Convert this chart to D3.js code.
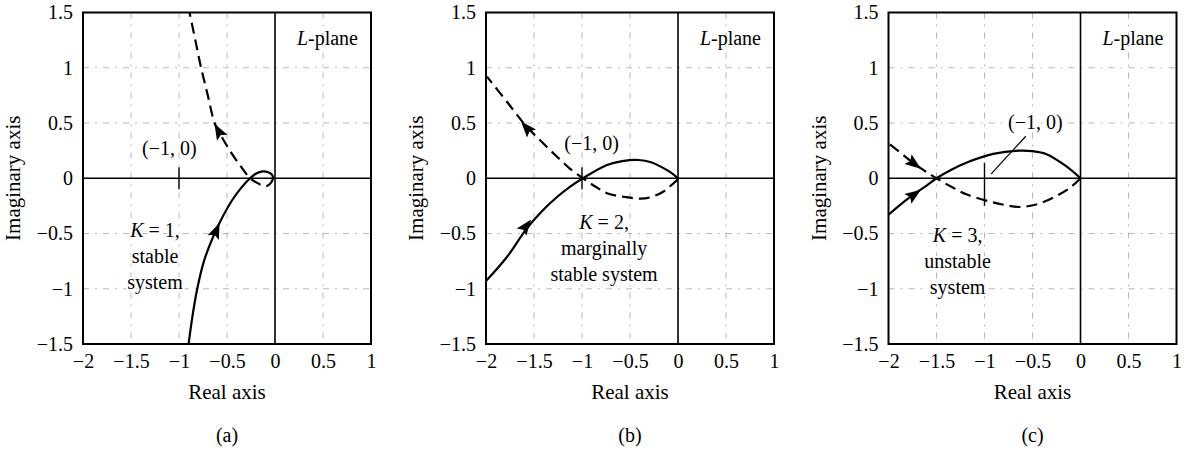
<!DOCTYPE html>
<html><head><meta charset="utf-8">
<script src="https://cdn.jsdelivr.net/npm/d3@7"></script>
<style>
html,body{margin:0;padding:0;background:#fff;}
svg{display:block;font-family:"Liberation Serif","Times New Roman",serif;}
</style></head>
<body><svg id="chart" width="1188" height="451"></svg>
<script>
// ---- data ----
const xTicks = [-2, -1.5, -1, -0.5, 0, 0.5, 1];
const yTicks = [-1.5, -1, -0.5, 0, 0.5, 1, 1.5];
const xGrid = [-1.5, -1, -0.5, 0.5];
const yGrid = [-1, -0.5, 0.5, 1];
const captions = ["(a)", "(b)", "(c)"];
const gainLines = [["K = 1,", "stable", "system"], ["K = 2,", "marginally", "stable system"], ["K = 3,", "unstable", "system"]];
const pointLabel = "(−1, 0)";

// Nyquist curves: [Re, Im]
const solidA = [[-0.90,-1.5],[-0.86,-1.25],[-0.81,-1.0],[-0.74,-0.75],[-0.64,-0.52],[-0.54,-0.34],[-0.44,-0.19],[-0.35,-0.085],[-0.26,0],[-0.2,0.04],[-0.13,0.062],[-0.07,0.055],[-0.03,0.03],[-0.02,0.0]];
const dashedA = [[-0.02,0.0],[-0.04,-0.04],[-0.09,-0.072],[-0.14,-0.062],[-0.2,-0.035],[-0.26,0],[-0.35,0.1],[-0.47,0.25],[-0.59,0.43],[-0.63,0.5],[-0.70,0.75],[-0.77,1.0],[-0.83,1.25],[-0.89,1.5]];
const solidB = [[-2,-0.93],[-1.78,-0.71],[-1.58,-0.46],[-1.42,-0.3],[-1.26,-0.17],[-1.13,-0.08],[-0.99,0],[-0.74,0.12],[-0.58,0.155],[-0.41,0.165],[-0.28,0.145],[-0.18,0.105],[-0.08,0.055],[0,0]];
const dashedB = [[0,-0.01],[-0.08,-0.07],[-0.15,-0.12],[-0.28,-0.17],[-0.39,-0.185],[-0.55,-0.17],[-0.74,-0.135],[-0.87,-0.07],[-0.99,0],[-1.13,0.09],[-1.26,0.195],[-1.42,0.33],[-1.58,0.47],[-1.78,0.69],[-1.99,0.92]];
const solidC = [[-2,-0.33],[-1.85,-0.22],[-1.71,-0.13],[-1.6,-0.065],[-1.5,0],[-1.35,0.075],[-1.19,0.14],[-0.91,0.22],[-0.64,0.25],[-0.5,0.245],[-0.36,0.22],[-0.15,0.11],[0,0]];
const dashedC = [[0,0],[-0.1,-0.08],[-0.25,-0.16],[-0.45,-0.235],[-0.64,-0.26],[-0.8,-0.24],[-0.95,-0.21],[-1.19,-0.145],[-1.35,-0.075],[-1.5,0],[-1.62,0.065],[-1.73,0.13],[-1.86,0.22],[-1.99,0.31]];
const solidSeries = [solidA, solidB, solidC];
const dashedSeries = [dashedA, dashedB, dashedC];
// arrowheads: [Re, Im] and direction along stored point order (1 forward, -1 backward)
const solidArrows = [[-0.61,-0.47], [-1.58,-0.43], [-1.73,-0.145]];
const dashedArrows = [[-0.59,0.43], [-1.58,0.46], [-1.73,0.13]];
const solidArrowDir = [1, 1, 1];
const dashedArrowDir = [1, 1, -1];

(function () {
// ---- layout ----
const svg = d3.select("#chart");
const lefts = [83, 486, 888.5];
const pw = 288, topY = 12.5, botY = 344;
const fmt = d => d < 0 ? "−" + Math.abs(d) : String(d);
const line = d3.line().curve(d3.curveCatmullRom.alpha(0.5));

function arrow(g, x, y, pts, at, dir) {
  let best = 0, bd = 1e9;
  pts.forEach((p, i) => { const d = (p[0]-at[0])**2 + (p[1]-at[1])**2; if (d < bd) { bd = d; best = i; } });
  const i0 = Math.max(0, best-1), i1 = Math.min(pts.length-1, best+1);
  const dx = x(pts[i1][0]) - x(pts[i0][0]), dy = y(pts[i1][1]) - y(pts[i0][1]);
  const ang = Math.atan2(dy, dx) * 180 / Math.PI + (dir < 0 ? 180 : 0);
  g.append("path")
    .attr("d", "M8,0 L-8,-6 L-5,0 L-8,6 Z")
    .attr("fill", "#000")
    .attr("transform", `translate(${x(at[0])},${y(at[1])}) rotate(${ang})`);
}

lefts.forEach((L, i) => {
  const x = d3.scaleLinear().domain([-2, 1]).range([L, L + pw]);
  const y = d3.scaleLinear().domain([-1.5, 1.5]).range([botY, topY]);
  const g = svg.append("g");
  line.x(d => x(d[0])).y(d => y(d[1]));

  g.selectAll(".gx").data(xGrid).enter().append("line")
    .attr("x1", d => x(d)).attr("x2", d => x(d)).attr("y1", topY).attr("y2", botY)
    .attr("stroke", "#9a9a9a").attr("stroke-width", 0.7).attr("stroke-dasharray", "6,6,2,6");
  g.selectAll(".gy").data(yGrid).enter().append("line")
    .attr("y1", d => y(d)).attr("y2", d => y(d)).attr("x1", L).attr("x2", L + pw)
    .attr("stroke", "#9a9a9a").attr("stroke-width", 0.7).attr("stroke-dasharray", "6,6,2,6");

  g.append("line").attr("x1", x(0)).attr("x2", x(0)).attr("y1", topY).attr("y2", botY)
    .attr("stroke", "#000").attr("stroke-width", 1.6);
  g.append("line").attr("x1", L).attr("x2", L + pw).attr("y1", y(0)).attr("y2", y(0))
    .attr("stroke", "#000").attr("stroke-width", 1.4);

  g.append("line").attr("x1", x(-1)).attr("x2", x(-1)).attr("y1", y(i === 2 ? 0.14 : 0.1)).attr("y2", y(i === 2 ? -0.25 : -0.1))
    .attr("stroke", "#000").attr("stroke-width", 1.4);

  const T = (tx, ty, s, anchor) => g.append("text").attr("x", tx).attr("y", ty)
    .attr("text-anchor", anchor || "middle").attr("font-size", 20)
    .attr("paint-order", "stroke").attr("stroke", "#fff").attr("stroke-width", 4)
    .text(s);

  g.append("path").attr("d", line(solidSeries[i])).attr("fill", "none")
    .attr("stroke", "#000").attr("stroke-width", 2.2);
  g.append("path").attr("d", line(dashedSeries[i])).attr("fill", "none")
    .attr("stroke", "#000").attr("stroke-width", 2.2).attr("stroke-dasharray", "11,6");
  arrow(g, x, y, solidSeries[i], solidArrows[i], solidArrowDir[i]);
  arrow(g, x, y, dashedSeries[i], dashedArrows[i], dashedArrowDir[i]);

  g.append("rect").attr("x", L).attr("y", topY).attr("width", pw).attr("height", botY - topY)
    .attr("fill", "none").attr("stroke", "#000").attr("stroke-width", 2);

  const ax = g.append("g").attr("transform", `translate(0,${botY})`)
    .call(d3.axisBottom(x).tickValues(xTicks).tickSize(0).tickPadding(10).tickFormat(fmt));
  ax.select(".domain").remove();
  ax.attr("font-family", null);
  ax.selectAll("text").attr("font-size", 20).attr("font-family", "Liberation Serif");
  const ay = g.append("g").attr("transform", `translate(${L},0)`)
    .call(d3.axisLeft(y).tickValues(yTicks).tickSize(0).tickPadding(10).tickFormat(fmt));
  ay.select(".domain").remove();
  ay.attr("font-family", null);
  ay.selectAll("text").attr("font-size", 20).attr("font-family", "Liberation Serif");

  const lp = g.append("text").attr("x", L + pw - 13).attr("y", 45).attr("text-anchor", "end").attr("font-size", 20);
  lp.append("tspan").attr("font-style", "italic").text("L");
  lp.append("tspan").text("-plane");

  const gx = [x(-1.25), x(-0.77), x(-1.28)][i];
  const gy = [237, 229, 242][i];
  gainLines[i].forEach((s, k) => {
    const t = T(gx, gy + k * 26, "");
    if (k === 0) {
      t.append("tspan").attr("font-style", "italic").text("K");
      t.append("tspan").text(s.slice(1));
    } else t.text(s);
  });

  const plx = [x(-1.1), x(-0.9), x(-0.47)][i];
  const ply = [155, 150, 129][i];
  T(plx, ply, pointLabel);
  if (i === 2) {
    g.append("line").attr("x1", x(-0.57)).attr("y1", y(0.38)).attr("x2", x(-0.93)).attr("y2", y(0.04))
      .attr("stroke", "#000").attr("stroke-width", 1.2);
  }

  g.append("text").attr("x", x(-0.5)).attr("y", 399).attr("text-anchor", "middle").attr("font-size", 21).text("Real axis");
  g.append("text").attr("transform", `translate(${L - 63},${y(0)}) rotate(-90)`).attr("text-anchor", "middle")
    .attr("font-size", 21).text("Imaginary axis");
  g.append("text").attr("x", x(-0.5)).attr("y", 442).attr("text-anchor", "middle").attr("font-size", 20).text(captions[i]);
});
})();
</script></body></html>
